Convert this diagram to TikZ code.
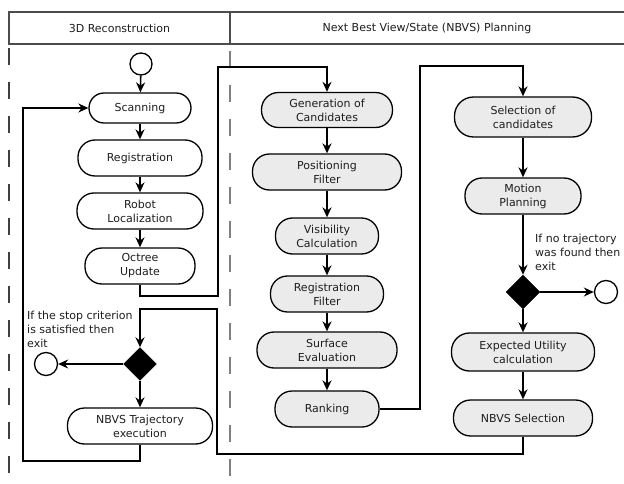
\documentclass[tikz,border=0pt]{standalone}
\usepackage{fontspec}
\setmainfont{DejaVu Sans}
\usetikzlibrary{arrows.meta,shapes.geometric}
\definecolor{boxgray}{HTML}{EBEBEB}
\definecolor{txt}{HTML}{1E1E1E}
\begin{document}
\begin{tikzpicture}[x=1pt,y=-1pt,
  font=\fontsize{11}{14}\selectfont,
  act/.style={draw=black,line width=1.3pt,rounded corners=17pt,minimum height=36pt,inner sep=2pt,align=center,text=txt},
  plan/.style={act,fill=boxgray},
  dia/.style={diamond,fill=black,draw=black,minimum size=34pt,inner sep=0pt},
  endc/.style={circle,draw=black,line width=1.3pt,minimum size=23pt,inner sep=0pt,fill=white},
  arr/.style={line width=1.6pt,-{Stealth[length=10pt,width=9pt]}},
  conn/.style={line width=1.6pt},
  lbl/.style={align=left,inner sep=0pt,text=txt}]
\useasboundingbox (0,0) rectangle (624,484);
% swimlanes
\draw[draw=black!70,line width=1.2pt] (9,12) rectangle (630,44);
\draw[draw=black!70,line width=1.2pt] (230,12) -- (230,44);
\node[text=txt] (h1) at (119.5,28) {3D Reconstruction};
\node[text=txt] (h2) at (427,28) {Next Best View/State (NBVS) Planning};
\draw[draw=black!75,line width=1.2pt,dash pattern=on 17pt off 17pt] (9,48) -- (9,484);
\draw[draw=black!50,line width=1.2pt,dash pattern=on 17pt off 17pt,dash phase=-3pt] (230,48) -- (230,484);
% left column
\node[endc,minimum size=22pt] (start) at (141,64) {};
\node[act,minimum width=102pt,minimum height=30pt,rounded corners=15pt] (scan) at (140,108) {Scanning};
\node[act,minimum width=124pt] (reg) at (140,158) {Registration};
\node[act,minimum width=126pt] (loc) at (140,211) {Robot\\Localization};
\node[act,minimum width=110pt] (oct) at (140,266) {Octree\\Update};
\node[dia,minimum size=33pt] (d1) at (140,364) {};
\node[endc] (end1) at (46,364) {};
\node[act,minimum width=145pt] (traj) at (140,426) {NBVS Trajectory\\execution};
\node[lbl,anchor=north west] (l1) at (27,311) {If the stop criterion\\is satisfied then\\exit};
% middle column
\node[plan,minimum width=131pt,minimum height=35pt] (gen) at (327,110) {Generation of\\Candidates};
\node[plan,minimum width=149pt] (pos) at (327,172) {Positioning\\Filter};
\node[plan,minimum width=103pt] (vis) at (327,236) {Visibility\\Calculation};
\node[plan,minimum width=113pt] (regf) at (327,294) {Registration\\Filter};
\node[plan,minimum width=140pt] (surf) at (327,350) {Surface\\Evaluation};
\node[plan,minimum width=104pt] (rank) at (327,409) {Ranking};
% right column
\node[plan,minimum width=137pt,minimum height=40pt,rounded corners=19pt] (sel) at (523,117) {Selection of\\candidates};
\node[plan,minimum width=116pt] (mot) at (523,196) {Motion\\Planning};
\node[dia] (d2) at (523,292) {};
\node[endc] (end2) at (606,292) {};
\node[plan,minimum width=143pt,minimum height=38pt,rounded corners=18pt] (exp) at (523,352) {Expected Utility\\calculation};
\node[plan,minimum width=139pt] (nsel) at (523,418) {NBVS Selection};
\node[lbl,anchor=north west] (l2) at (535,234) {If no trajectory\\was found then\\exit};
% bend points
\coordinate (c1) at (218,296);
\coordinate (c2) at (218,67);
\coordinate (c3) at (420,66);
\coordinate (c4) at (217,454);
\coordinate (c5) at (217,309);
\coordinate (c6) at (23,461);
% connectors
\draw[arr] (start) -- (scan);
\draw[arr] (scan) -- (reg);
\draw[arr] (reg) -- (loc);
\draw[arr] (loc) -- (oct);
\draw[arr] (oct.south) |- (c1) -- (c2) -| (gen.north);
\draw[arr] (gen) -- (pos);
\draw[arr] (pos) -- (vis);
\draw[arr] (vis) -- (regf);
\draw[arr] (regf) -- (surf);
\draw[arr] (surf) -- (rank);
\draw[arr] (rank.east) -| (c3) -| (sel.north);
\draw[arr] (sel) -- (mot);
\draw[arr] (mot) -- (d2);
\draw[arr] (d2) -- (end2);
\draw[arr] (d2) -- (exp);
\draw[arr] (exp) -- (nsel);
\draw[arr] (nsel.south) |- (c4) -- (c5) -| (d1.north);
\draw[arr] (d1) -- (end1);
\draw[arr] (d1) -- (traj);
\draw[arr] (traj.south) |- (c6) |- (scan.west);
\end{tikzpicture}
\end{document}
